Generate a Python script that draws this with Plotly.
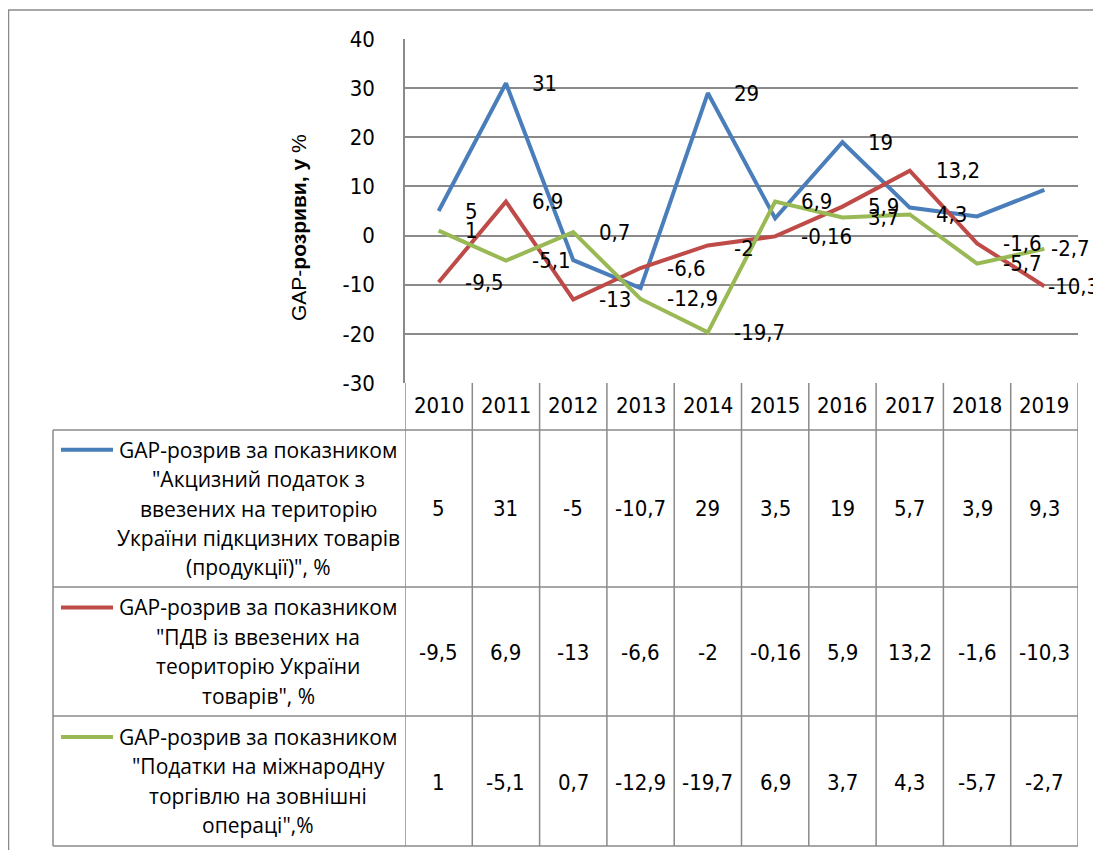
import plotly.graph_objects as go

years = ["2010", "2011", "2012", "2013", "2014", "2015", "2016", "2017", "2018", "2019"]
excise = [5, 31, -5, -10.7, 29, 3.5, 19, 5.7, 3.9, 9.3]
vat = [-9.5, 6.9, -13, -6.6, -2, -0.16, 5.9, 13.2, -1.6, -10.3]
intl = [1, -5.1, 0.7, -12.9, -19.7, 6.9, 3.7, 4.3, -5.7, -2.7]

excise_label_shown = [1, 1, 0, 0, 1, 0, 1, 0, 0, 0]
vat_label_shown = [1, 1, 1, 1, 1, 1, 1, 1, 1, 1]
intl_label_shown = [1, 1, 1, 1, 1, 1, 1, 1, 1, 1]

legend_lines = [
    ["GAP-розрив за показником", "\"Акцизний податок з", "ввезених на територію",
     "України підкцизних товарів", "(продукції)\", %"],
    ["GAP-розрив за показником", "\"ПДВ із ввезених на", "теориторію України", "товарів\", %"],
    ["GAP-розрив за показником", "\"Податки на міжнародну", "торгівлю на зовнішні", "операці\",%"],
]
y_title = "GAP-<b>розриви, у</b> %"
y_ticks = [-30, -20, -10, 0, 10, 20, 30, 40]

colors = ["#4A7EBB", "#BE4B48", "#98B954"]
series = [excise, vat, intl]
shown = [excise_label_shown, vat_label_shown, intl_label_shown]

# page body has an 8px default margin -> work in page pixels, shift by OFF
OFF = 8
W, H = 1101 - OFF, 850 - OFF
L, R, T, B = 405, 1078, 39, 383  # page pixel coordinates of plot area
NUM_FONT = "DejaVu Sans Condensed, Liberation Sans Narrow, Arial Narrow, sans-serif"
TXT_FONT = "Open Sans, Noto Sans, sans-serif"
GRID = "#8a8a8a"


def px_x(p):
    return (p - L) / (R - L)


def px_y(p):
    return (B - p) / (B - T)


def fmt(v):
    return f"{v:g}".replace(".", ",")


fig = go.Figure()
xi = list(range(len(years)))
for vals, col in zip(series, colors):
    fig.add_trace(go.Scatter(x=xi, y=vals, mode="lines",
                             line=dict(color=col, width=4), showlegend=False,
                             hoverinfo="skip"))

label_xshift = {(1, 9): 2, (2, 9): 5}
label_yshift = {(1, 4): -3}
annotations = []
for si, (vals, sh) in enumerate(zip(series, shown)):
    for i, v in enumerate(vals):
        if sh[i]:
            annotations.append(dict(
                x=i, y=v, xref="x", yref="y", text=fmt(v), showarrow=False,
                xanchor="left", yanchor="middle",
                xshift=label_xshift.get((si, i), 24), yshift=label_yshift.get((si, i), 0),
                font=dict(family=NUM_FONT, size=22, color="black")))

# header row years
for i, yr in enumerate(years):
    annotations.append(dict(x=i, y=px_y(406), xref="x", yref="paper", text=yr,
                            showarrow=False, xanchor="center", yanchor="middle",
                            font=dict(family=NUM_FONT, size=22, color="black")))

# table values
row_bounds = [(430, 587), (587, 716), (716, 846)]
row_val_y = [508, 652, 782]
for vals, vy in zip(series, row_val_y):
    for i, v in enumerate(vals):
        annotations.append(dict(x=i, y=px_y(vy), xref="x", yref="paper", text=fmt(v),
                                showarrow=False, xanchor="center", yanchor="middle",
                                font=dict(family=NUM_FONT, size=22, color="black")))

# legend texts
LS = 29.4
shapes = []
for (top, bot), lines, col in zip(row_bounds, legend_lines, colors):
    c = (top + bot) / 2
    n = len(lines)
    for k, t in enumerate(lines):
        yy = c + (k - (n - 1) / 2) * LS
        annotations.append(dict(x=px_x(258), y=px_y(yy), xref="paper", yref="paper", text=t,
                                showarrow=False, xanchor="center", yanchor="middle",
                                font=dict(family=TXT_FONT, size=21, color="black")))
    y1 = c - (n - 1) / 2 * LS
    shapes.append(dict(type="line", xref="paper", yref="paper", x0=px_x(61), x1=px_x(113),
                       y0=px_y(y1), y1=px_y(y1), line=dict(color=col, width=4)))

# y axis title
annotations.append(dict(x=px_x(298), y=px_y(228), xref="paper", yref="paper", text=y_title,
                        textangle=-90, showarrow=False, xanchor="center", yanchor="middle",
                        font=dict(family="Liberation Sans, Arial, sans-serif", size=21, color="black")))

# table grid
lc = dict(color=GRID, width=1.5)
for i in range(len(years) + 1):
    shapes.append(dict(type="line", xref="x", yref="paper", x0=i - 0.5, x1=i - 0.5,
                       y0=px_y(383), y1=px_y(846), line=lc))
shapes.append(dict(type="line", xref="paper", yref="paper", x0=px_x(53), x1=px_x(53),
                   y0=px_y(430), y1=px_y(846), line=lc))
for yy in [430, 587, 716, 846]:
    shapes.append(dict(type="line", xref="paper", yref="paper", x0=px_x(53), x1=1,
                       y0=px_y(yy), y1=px_y(yy), line=lc))
# outer frame
shapes.append(dict(type="line", xref="paper", yref="paper", x0=px_x(8), x1=px_x(1101),
                   y0=px_y(10), y1=px_y(10), line=lc))
shapes.append(dict(type="line", xref="paper", yref="paper", x0=px_x(8.5), x1=px_x(8.5),
                   y0=px_y(10), y1=px_y(850), line=lc))

fig.update_layout(
    width=W, height=H,
    margin=dict(l=L - OFF, r=W - (R - OFF), t=T - OFF, b=H - (B - OFF), pad=0),
    paper_bgcolor="white", plot_bgcolor="white",
    xaxis=dict(range=[-0.5, 9.5], showticklabels=False, showgrid=False,
               zeroline=False, showline=False, ticks=""),
    yaxis=dict(range=[-30, 40], tickvals=y_ticks, ticktext=[str(t) for t in y_ticks],
               showgrid=True, gridcolor=GRID, gridwidth=1.5,
               zeroline=False, showline=True, linecolor=GRID, linewidth=1.5, ticks="",
               ticklabelstandoff=24,
               tickfont=dict(family=NUM_FONT, size=22, color="black")),
    annotations=annotations, shapes=shapes,
)
fig.write_html("out.html")
